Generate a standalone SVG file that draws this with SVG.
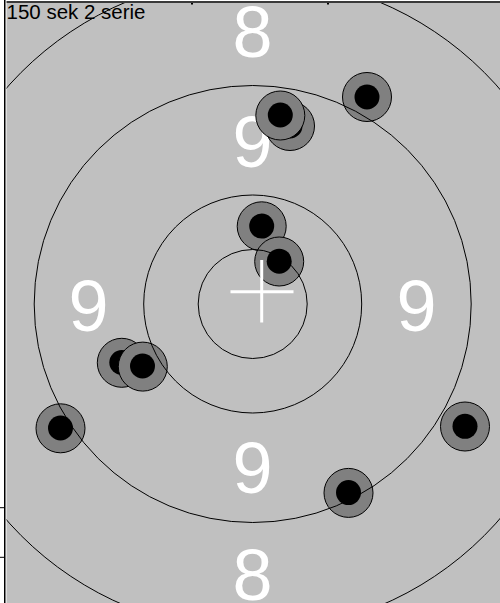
<svg xmlns="http://www.w3.org/2000/svg" width="500" height="603" viewBox="0 0 500 603">
<style>
.ring{fill:none;stroke:#000;stroke-width:1}
.num{font-family:"Liberation Sans",Arial,sans-serif;font-size:72px;fill:#fff;text-anchor:middle}
.hole{fill:#808080;stroke:#000;stroke-width:1}
.core{fill:#000}
.cross{stroke:#fff;stroke-width:3;fill:none}
</style>
<defs>
<clipPath id="field"><rect x="6.5" y="3" width="493.5" height="600"/></clipPath>
</defs>
<rect x="0" y="0" width="500" height="603" fill="#fff"/>
<rect x="6.5" y="3" width="493.5" height="600" fill="#c0c0c0"/>
<rect x="6.5" y="1" width="493.5" height="2" fill="#3a3a3a"/>
<rect x="191" y="3" width="2" height="1.5" fill="#000"/>
<rect x="327" y="3" width="2" height="1.5" fill="#000"/>
<line x1="4.75" y1="0" x2="4.75" y2="603" stroke="#000" stroke-width="1.5"/>
<line x1="0" y1="507.7" x2="4" y2="507.7" stroke="#000" stroke-width="1"/>
<line x1="0" y1="557.3" x2="4" y2="557.3" stroke="#000" stroke-width="1"/>
<g clip-path="url(#field)">
<g id="numbers">
<text class="num" x="252.5" y="56.5">8</text>
<text class="num" x="252.5" y="167">9</text>
<text class="num" x="88.5" y="330.5">9</text>
<text class="num" x="416.5" y="330.5">9</text>
<text class="num" x="252.5" y="493">9</text>
<text class="num" x="252.5" y="600">8</text>
</g>
<g id="shots">
<g id="shot1"><circle class="hole" cx="367" cy="97" r="24.5"/><circle class="core" cx="367" cy="97" r="12.5"/></g>
<g id="shot2"><circle class="hole" cx="290" cy="126" r="24.5"/><circle class="core" cx="290" cy="126" r="12.5"/></g>
<g id="shot3"><circle class="hole" cx="280.3" cy="115.5" r="24.5"/><circle class="core" cx="280.3" cy="115" r="12.5"/></g>
<g id="shot4"><circle class="hole" cx="261.7" cy="226.3" r="24.5"/><circle class="core" cx="261.7" cy="226.1" r="12.5"/></g>
<g id="shot5"><circle class="hole" cx="279.2" cy="261.5" r="24.5"/><circle class="core" cx="279.2" cy="261.2" r="12.5"/></g>
<g id="shot6"><circle class="hole" cx="121.8" cy="362.8" r="24.5"/><circle class="core" cx="121.8" cy="362.5" r="12.5"/></g>
<g id="shot7"><circle class="hole" cx="142.8" cy="366.6" r="24.5"/><circle class="core" cx="142.5" cy="366" r="12.5"/></g>
<g id="shot8"><circle class="hole" cx="60.5" cy="428.3" r="24.5"/><circle class="core" cx="60.5" cy="428" r="12.5"/></g>
<g id="shot9"><circle class="hole" cx="465" cy="426.5" r="24.5"/><circle class="core" cx="465" cy="426.3" r="12.5"/></g>
<g id="shot10"><circle class="hole" cx="348.5" cy="492.9" r="24.5"/><circle class="core" cx="348.5" cy="492.6" r="12.5"/></g>
</g>
<g id="rings">
<circle class="ring" cx="252.7" cy="304" r="54.5"/>
<circle class="ring" cx="252.7" cy="304" r="109"/>
<circle class="ring" cx="252.7" cy="304" r="218.5"/>
<circle class="ring" cx="252.7" cy="304" r="327.5"/>
</g>
<g id="cross">
<line class="cross" x1="230.5" y1="291.7" x2="293.5" y2="291.7"/>
<line class="cross" x1="261.7" y1="260" x2="261.7" y2="322.5"/>
</g>
</g>
<text x="6.5" y="19" font-family="'Liberation Sans',Arial,sans-serif" font-size="20.5" fill="#000">150 sek 2 serie</text>
</svg>
